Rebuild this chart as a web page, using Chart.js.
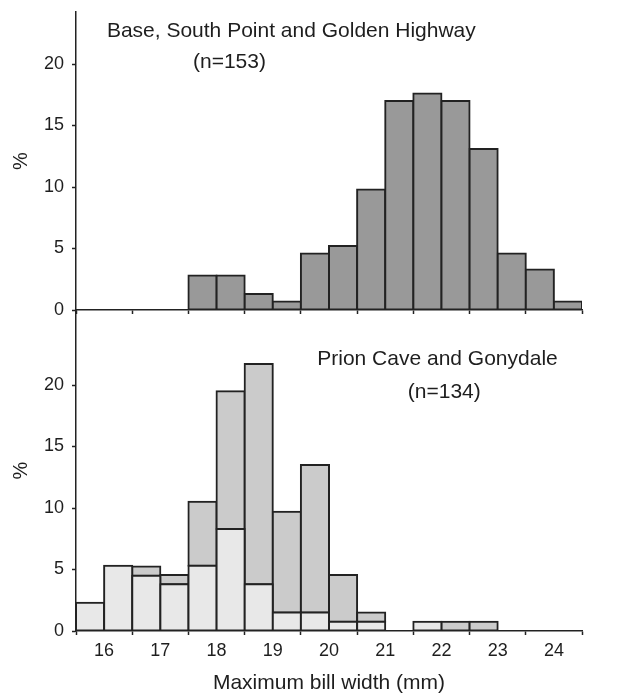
<!DOCTYPE html>
<html>
<head>
<meta charset="utf-8">
<script src="https://cdn.jsdelivr.net/npm/chart.js@4/dist/chart.umd.min.js"></script>
<style>
  html, body { margin: 0; padding: 0; background: #ffffff; }
  #wrap { position: relative; width: 623px; height: 697px; }
  canvas { position: absolute; left: 0; top: 0; }
</style>
</head>
<body>
<div id="wrap">
  <canvas id="top" width="623" height="697"></canvas>
  <canvas id="bottom" width="623" height="697"></canvas>
</div>
<script>
// ---- data (bins of 0.5 mm, labelled by lower edge) ----
const bins = ['15.5','16.0','16.5','17.0','17.5','18.0','18.5','19.0','19.5','20.0','20.5','21.0','21.5','22.0','22.5','23.0','23.5','24.0'];
const topPct = [null, null, null, null, 2.8, 2.8, 1.3, 0.7, 4.6, 5.2, 9.8, 17.0, 17.6, 17.0, 13.1, 4.6, 3.3, 0.7];
const bottomLightPct = [2.3, 5.3, 4.5, 3.8, 5.3, 8.3, 3.8, 1.5, 1.5, 0.75, 0.75, null, 0.75, null, null, null, null, null];
const bottomDarkPct  = [null, null, 0.75, 0.75, 5.2, 11.2, 17.9, 8.2, 12.0, 3.8, 0.75, null, null, 0.75, 0.75, null, null, null];
const xTicks = [16, 17, 18, 19, 20, 21, 22, 23, 24];
const yTicks = [0, 5, 10, 15, 20];
const topTexts = [
  { text: 'Base, South Point and Golden Highway', x: 19.33, y: 22.7 },
  { text: '(n=153)', x: 18.23, y: 20.15 }
];
const bottomTexts = [
  { text: 'Prion Cave and Gonydale', x: 21.93, y: 22.1 },
  { text: '(n=134)', x: 22.05, y: 19.45 }
];
const xTitle = 'Maximum bill width (mm)';

// ---- styling ----
const FONT = '"Liberation Sans", Arial, Helvetica, sans-serif';
const INK = '#1e1e1e';
const EDGE = '#222222';

const panelText = {
  id: 'panelText',
  afterDatasetsDraw(chart, args, opts) {
    const { ctx, scales } = chart;
    ctx.save();
    ctx.font = '21px ' + FONT;
    ctx.fillStyle = INK;
    ctx.textAlign = 'center';
    ctx.textBaseline = 'middle';
    for (const t of opts.items) {
      ctx.fillText(t.text, scales.xl.getPixelForValue(t.x), scales.y.getPixelForValue(t.y));
    }
    ctx.restore();
  }
};

function yScale(max) {
  return {
    type: 'linear', position: 'left', min: 0, max: max,
    ticks: { stepSize: 5, color: INK, padding: 8, font: { family: FONT, size: 18 } },
    afterBuildTicks: (s) => { s.ticks = yTicks.map(v => ({ value: v })); },
    afterFit: (s) => { s.width = 76; s.paddingTop = 0; s.paddingBottom = 0; },
    grid: { drawOnChartArea: false, drawTicks: true, tickLength: 4, color: EDGE, tickColor: EDGE, tickWidth: 1.5 },
    border: { display: true, color: EDGE, width: 1.5 },
    title: { display: true, text: '%', color: INK, font: { family: FONT, size: 20 }, padding: { top: 9, bottom: 0 } }
  };
}

function xLinear(showLabels, height) {
  return {
    type: 'linear', position: 'bottom', min: 15.5, max: 24.5, offset: false,
    ticks: { display: showLabels, stepSize: 1, color: INK, padding: 5, maxRotation: 0, font: { family: FONT, size: 18 } },
    afterBuildTicks: (s) => { s.ticks = xTicks.map(v => ({ value: v })); },
    afterFit: (s) => { s.height = height; s.paddingLeft = 0; s.paddingRight = 0; },
    grid: { drawOnChartArea: false, drawTicks: true, tickLength: 4, color: EDGE, tickColor: EDGE, tickWidth: 1.5 },
    border: { display: true, color: EDGE, width: 1.5 },
    title: { display: showLabels, text: xTitle, color: INK, font: { family: FONT, size: 21 }, padding: { top: 0, bottom: 1 } }
  };
}

const xCat = { type: 'category', display: false, offset: true, labels: bins, grid: { offset: true } };

const barStyle = { borderColor: EDGE, borderWidth: 2, inflateAmount: 1, borderSkipped: false, barPercentage: 1, categoryPercentage: 1, xAxisID: 'xc', yAxisID: 'y' };

new Chart(document.getElementById('top'), {
  type: 'bar',
  data: {
    labels: bins,
    datasets: [Object.assign({ label: 'top', data: topPct, backgroundColor: '#999999' }, barStyle)]
  },
  options: {
    responsive: false, animation: false, devicePixelRatio: 1,
    layout: { padding: { top: 12, right: 41, left: 0, bottom: 0 } },
    plugins: { legend: { display: false }, tooltip: { enabled: false }, panelText: { items: topTexts } },
    scales: { xc: xCat, xl: xLinear(false, 697 - 310), y: yScale(24.23) }
  },
  plugins: [panelText]
});

new Chart(document.getElementById('bottom'), {
  type: 'bar',
  data: {
    labels: bins,
    datasets: [
      Object.assign({ label: 'light', data: bottomLightPct, backgroundColor: '#e8e8e8', stack: 's' }, barStyle),
      Object.assign({ label: 'dark', data: bottomDarkPct, backgroundColor: '#cbcbcb', stack: 's' }, barStyle)
    ]
  },
  options: {
    responsive: false, animation: false, devicePixelRatio: 1,
    layout: { padding: { top: 310, right: 41, left: 0, bottom: 0 } },
    plugins: { legend: { display: false }, tooltip: { enabled: false }, panelText: { items: bottomTexts } },
    scales: { xc: Object.assign({ stacked: true }, xCat), xl: xLinear(true, 697 - 631), y: Object.assign({ stacked: true }, yScale(26.1)) }
  },
  plugins: [panelText]
});
</script>
</body>
</html>
